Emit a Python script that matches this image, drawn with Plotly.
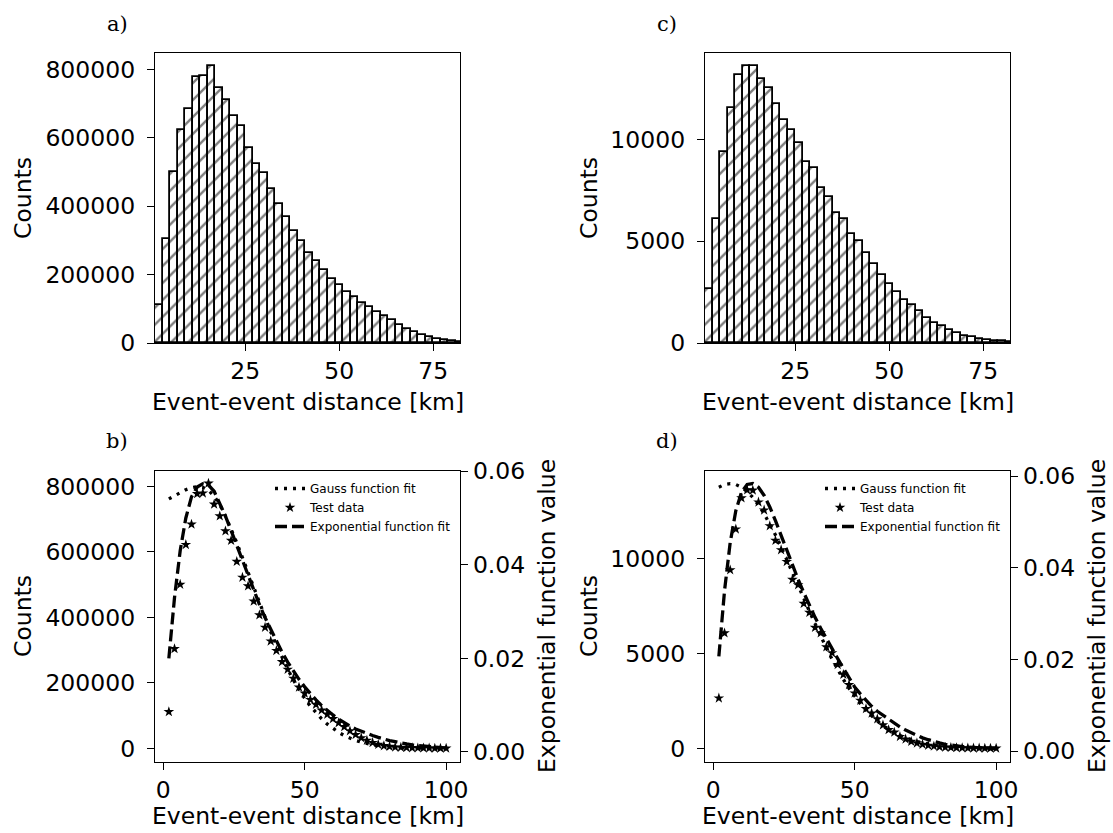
import plotly.graph_objects as go

# ---------------- data ----------------
distance_km = [2, 4, 6, 8, 10, 12, 14, 16, 18, 20, 22, 24, 26, 28, 30, 32, 34, 36, 38, 40,
               42, 44, 46, 48, 50, 52, 54, 56, 58, 60, 62, 64, 66, 68, 70, 72, 74, 76, 78, 80,
               82, 84, 86, 88, 90, 92, 94, 96, 98, 100]

counts_ab = [111800, 304200, 500600, 622000, 684300, 777600, 779500, 809700, 745500, 709600,
             663900, 634700, 570600, 522000, 495700, 449100, 407300, 369400, 327600, 298400,
             264400, 241100, 213800, 186600, 168200, 148700, 134100, 116600, 104000, 90400,
             77800, 66100, 53500, 41800, 32100, 24300, 17500, 11700, 7800, 5800,
             3900, 3000, 2300, 1700, 1300, 1000, 700, 500, 400, 300]

counts_cd = [2650, 6080, 9400, 11550, 13190, 13610, 13600, 12970, 12550, 11720,
             10950, 10460, 9840, 8900, 8610, 7630, 7160, 6370, 6080, 5340,
             5030, 4410, 3890, 3350, 2910, 2530, 2090, 1850, 1550, 1230,
             980, 850, 620, 490, 360, 280, 210, 160, 115, 80,
             60, 45, 35, 25, 20, 15, 10, 8, 6, 5]

gauss_b = [762000, 772000, 782000, 790000, 796000, 799000, 797000, 788000, 770000, 744000,
           710000, 671000, 628000, 583000, 537000, 490000, 444000, 399000, 356000, 315000,
           277000, 242000, 209000, 180000, 153000, 129000, 108000, 90000, 74000, 61000,
           49000, 39000, 31000, 24000, 19000, 14500, 11000, 8300, 6200, 4600,
           3400, 2500, 1800, 1300, 900, 600, 400, 300, 200, 100]

gauss_d = [13764, 13903, 13950, 13903, 13764, 13535, 13219, 12826, 12360, 11831,
           11249, 10626, 9967, 9288, 8597, 7905, 7219, 6548, 5899, 5283,
           4696, 4146, 3635, 3168, 2741, 2358, 2013, 1707, 1438, 1203,
           1000, 826, 678, 552, 446, 359, 286, 227, 179, 140,
           108, 83, 63, 48, 36, 27, 20, 15, 11, 8]

expo_b = [0.0200, 0.0330, 0.0430, 0.0500, 0.0545, 0.0566, 0.0573, 0.0570, 0.0557, 0.0532,
          0.0504, 0.0473, 0.0441, 0.0408, 0.0376, 0.0345, 0.0315, 0.0287, 0.0261, 0.0236,
          0.0213, 0.0192, 0.0172, 0.0155, 0.0139, 0.0124, 0.0111, 0.0099, 0.0088, 0.0079,
          0.0070, 0.0062, 0.0055, 0.0049, 0.0044, 0.0039, 0.0035, 0.0031, 0.0027, 0.0024,
          0.0022, 0.0019, 0.0017, 0.0015, 0.0014, 0.0012, 0.0011, 0.0010, 0.0009, 0.0008]

expo_d = [0.0207, 0.0350, 0.0455, 0.0525, 0.0565, 0.0582, 0.0584, 0.0576, 0.0558, 0.0533,
          0.0503, 0.0470, 0.0436, 0.0405, 0.0375, 0.0346, 0.0318, 0.0292, 0.0268, 0.0245,
          0.0223, 0.0202, 0.0181, 0.0160, 0.0140, 0.0125, 0.0111, 0.0098, 0.0087, 0.0078,
          0.0069, 0.0061, 0.0053, 0.0046, 0.0040, 0.0034, 0.0029, 0.0025, 0.0021, 0.0018,
          0.0015, 0.0013, 0.0011, 0.0010, 0.0009, 0.0008, 0.0007, 0.0007, 0.0006, 0.0006]

bin_width = 2

# ---------------- figure ----------------
W, H = 1113, 833
FONT = "DejaVu Sans"
TICK = 23.5

def px_x(p):
    return p / W

def px_y(p):
    return 1 - p / H

fig = go.Figure()

hatch = dict(shape="/", fgcolor="black", bgcolor="white", size=12, solidity=0.2)

fig.add_trace(go.Bar(x=distance_km, y=counts_ab, width=bin_width, xaxis="x", yaxis="y",
                     marker=dict(color="white", line=dict(color="black", width=1.8), pattern=hatch),
                     showlegend=False))
fig.add_trace(go.Bar(x=distance_km, y=counts_cd, width=bin_width, xaxis="x2", yaxis="y2",
                     marker=dict(color="white", line=dict(color="black", width=1.8), pattern=hatch),
                     showlegend=False))

dot = dict(color="black", width=3.3, dash="3px,6px")
dash = dict(color="black", width=3.3, dash="12px,5px")
star = dict(symbol="star", size=8, color="black")

# panel b
fig.add_trace(go.Scatter(x=distance_km, y=gauss_b, mode="lines", line=dot, name="Gauss function fit",
                         xaxis="x3", yaxis="y3", legend="legend"))
fig.add_trace(go.Scatter(x=distance_km, y=counts_ab, mode="markers", marker=star, name="Test data",
                         xaxis="x3", yaxis="y3", legend="legend"))
fig.add_trace(go.Scatter(x=distance_km, y=expo_b, mode="lines", line=dash, name="Exponential function fit",
                         xaxis="x3", yaxis="y4", legend="legend"))
# panel d
fig.add_trace(go.Scatter(x=distance_km, y=gauss_d, mode="lines", line=dot, name="Gauss function fit",
                         xaxis="x4", yaxis="y5", legend="legend2"))
fig.add_trace(go.Scatter(x=distance_km, y=counts_cd, mode="markers", marker=star, name="Test data",
                         xaxis="x4", yaxis="y5", legend="legend2"))
fig.add_trace(go.Scatter(x=distance_km, y=expo_d, mode="lines", line=dash, name="Exponential function fit",
                         xaxis="x4", yaxis="y6", legend="legend2"))

ax_common = dict(showgrid=False, zeroline=False, showline=True, linecolor="black", linewidth=1.4,
                 ticks="outside", ticklen=7, tickwidth=1.4, tickcolor="black", automargin=False,
                 tickfont=dict(family=FONT, size=TICK, color="black"))
xax = dict(ticklabelstandoff=0, **ax_common)
yax = dict(ticklabelstandoff=7, **ax_common)

top_y = [px_y(343), px_y(53)]
bot_y = [px_y(761.7), px_y(470.7)]
left_x = [px_x(155), px_x(460)]
right_x = [px_x(705), px_x(1010)]

fig.update_layout(
    width=W, height=H, margin=dict(l=0, r=0, t=0, b=0),
    paper_bgcolor="white", plot_bgcolor="white", bargap=0,
    font=dict(family=FONT, color="black"),
    xaxis=dict(domain=left_x, anchor="y", range=[1, 82.1], tickvals=[25, 50, 75], mirror=True, **xax),
    yaxis=dict(domain=top_y, anchor="x", range=[0, 848000], tickvals=[0, 200000, 400000, 600000, 800000],
               tickformat="d", mirror=True, **yax),
    xaxis2=dict(domain=right_x, anchor="y2", range=[1, 82.1], tickvals=[25, 50, 75], mirror=True, **xax),
    yaxis2=dict(domain=top_y, anchor="x2", range=[0, 14250], tickvals=[0, 5000, 10000],
                tickformat="d", mirror=True, **yax),
    xaxis3=dict(domain=left_x, anchor="y3", range=[-2.9, 104.9], tickvals=[0, 50, 100], mirror=True, **xax),
    yaxis3=dict(domain=bot_y, anchor="x3", range=[-40600, 848000], tickvals=[0, 200000, 400000, 600000, 800000],
                tickformat="d", **yax),
    yaxis4=dict(anchor="x3", overlaying="y3", side="right", range=[-0.0021, 0.0601],
                tickvals=[0, 0.02, 0.04, 0.06], tickformat=".2f", **ax_common),
    xaxis4=dict(domain=right_x, anchor="y5", range=[-2.9, 104.9], tickvals=[0, 50, 100], mirror=True, **xax),
    yaxis5=dict(domain=bot_y, anchor="x4", range=[-700, 14630], tickvals=[0, 5000, 10000],
                tickformat="d", **yax),
    yaxis6=dict(anchor="x4", overlaying="y5", side="right", range=[-0.0023, 0.0612],
                tickvals=[0, 0.02, 0.04, 0.06], tickformat=".2f", **ax_common),
    legend=dict(x=px_x(270), y=px_y(474), xanchor="left", yanchor="top", bgcolor="rgba(0,0,0,0)",
                borderwidth=0, font=dict(family=FONT, size=12, color="black")),
    legend2=dict(x=px_x(820), y=px_y(474), xanchor="left", yanchor="top", bgcolor="rgba(0,0,0,0)",
                 borderwidth=0, font=dict(family=FONT, size=12, color="black")),
)

annotations = []
def label(text, x, y, angle=0, size=TICK, family=FONT):
    annotations.append(dict(text=text, x=px_x(x), y=px_y(y), xref="paper", yref="paper",
                            showarrow=False, textangle=angle, xanchor="center", yanchor="middle",
                            font=dict(family=family, size=size, color="black")))

for cx in (23, 589):
    label("Counts", cx, 198, -90)
    label("Counts", cx, 616, -90)
for cx in (307.5, 857.5):
    label("Event-event distance [km]", cx, 402)
    label("Event-event distance [km]", cx, 816)
for cx in (547, 1097):
    label("Exponential function value", cx, 616, -90)

label("a)", 117, 24, size=21, family="DejaVu Serif")
label("b)", 117, 441, size=21, family="DejaVu Serif")
label("c)", 667, 24, size=21, family="DejaVu Serif")
label("d)", 667, 441, size=21, family="DejaVu Serif")

fig.update_layout(annotations=annotations)

fig.write_html("out.html")
